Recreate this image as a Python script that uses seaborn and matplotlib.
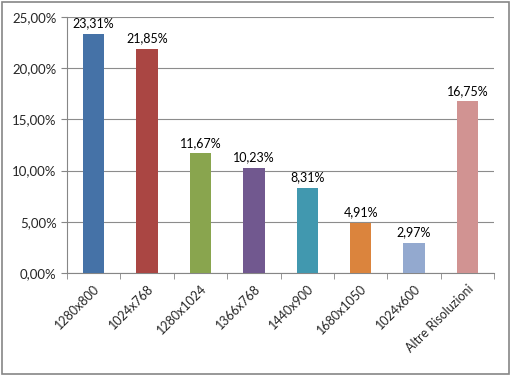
import pandas as pd
import seaborn as sns
import matplotlib.pyplot as plt
from matplotlib.ticker import FuncFormatter, FixedLocator

# chart data
risoluzioni = ['1280x800', '1024x768', '1280x1024', '1366x768', '1440x900',
               '1680x1050', '1024x600', 'Altre Risoluzioni']
percentuali = [23.31, 21.85, 11.67, 10.23, 8.31, 4.91, 2.97, 16.75]
colori = ['#4572A7', '#AA4643', '#89A54E', '#71588F', '#4198AF',
          '#DB843D', '#93A9CF', '#D19392']

df = pd.DataFrame({'Risoluzione': risoluzioni, 'Percentuale': percentuali})

sns.set_style('white')
plt.rcParams['font.family'] = ['Lato', 'DejaVu Sans']

fig = plt.figure(figsize=(5.11, 3.76), dpi=100)
ax = fig.add_axes([0.131, 0.274, 0.836, 0.681])

sns.barplot(data=df, x='Risoluzione', y='Percentuale', hue='Risoluzione',
            palette=colori, saturation=1, width=0.4, legend=False, ax=ax,
            linewidth=0, zorder=3)

# value labels
for i, v in enumerate(percentuali):
    ax.text(i, v + 0.45, f'{v:.2f}%'.replace('.', ','), ha='center', va='bottom',
            fontsize=9, color='black')

ax.set_ylim(0, 25)
ax.set_xlim(-0.5, len(risoluzioni) - 0.5)
ax.set_yticks([0, 5, 10, 15, 20, 25])
ax.yaxis.set_major_formatter(FuncFormatter(lambda v, p: f'{v:.2f}%'.replace('.', ',')))
ax.yaxis.grid(True, color='#8c8c8c', linewidth=0.8, zorder=0)
ax.set_xlabel('')
ax.set_ylabel('')

ax.set_xticks(range(len(risoluzioni)))
ax.set_xticklabels(risoluzioni, rotation=45, ha='right', rotation_mode='anchor', fontsize=9)
ax.tick_params(axis='x', which='major', length=0, pad=7)
ax.xaxis.set_minor_locator(FixedLocator([i - 0.5 for i in range(len(risoluzioni) + 1)]))
ax.tick_params(axis='x', which='minor', length=4, color='#868686', direction='out', bottom=True)
ax.tick_params(axis='y', length=4, color='#868686', direction='out', left=True, labelsize=9.5)

for s in ['top', 'right']:
    ax.spines[s].set_visible(False)
for s in ['left', 'bottom']:
    ax.spines[s].set_color('#868686')
    ax.spines[s].set_linewidth(0.8)

# outer chart border
fig.patches.append(plt.Rectangle((0.004, 0.005), 0.992, 0.99, transform=fig.transFigure,
                                 fill=False, edgecolor='#868686', linewidth=1.2))

fig.savefig('out.png', dpi=100)
